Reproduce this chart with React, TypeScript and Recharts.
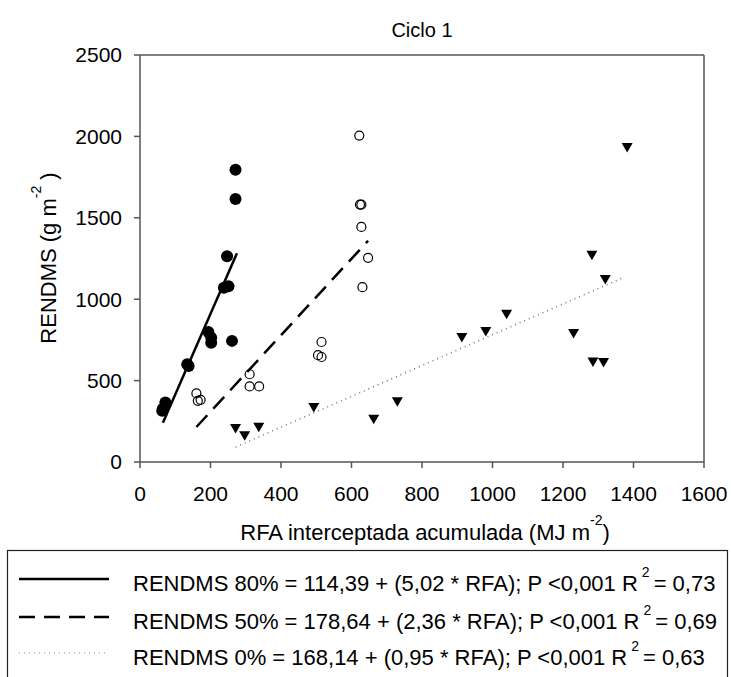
import React from 'react';
import { ComposedChart, Scatter, XAxis, YAxis, ReferenceLine } from 'recharts';

// ---- data ----
const x80 = [271, 271, 247, 238, 251, 194, 202, 202, 261, 134, 138, 72, 63, 65];
const y80 = [1795, 1616, 1264, 1070, 1080, 798, 764, 733, 744, 600, 590, 366, 315, 327];

const x50 = [160, 164, 172, 311, 311, 338, 622, 624, 628, 628, 647, 631, 515, 505, 515];
const y50 = [421, 376, 382, 539, 464, 464, 2005, 1581, 1581, 1444, 1254, 1074, 737, 656, 645];

const x0 = [271, 297, 337, 493, 663, 730, 913, 981, 1040, 1230, 1282, 1320, 1285, 1315, 1382];
const y0 = [206, 161, 213, 335, 263, 370, 764, 801, 907, 790, 1270, 1121, 615, 611, 1932];

const fit80X = [65, 275];
const fit80Y = [241, 1282];
const fit50X = [160, 647];
const fit50Y = [215, 1359];
const fit0X = [271, 1367];
const fit0Y = [92, 1129];

const xTicks = [0, 200, 400, 600, 800, 1000, 1200, 1400, 1600];
const yTicks = [0, 500, 1000, 1500, 2000, 2500];

const title = 'Ciclo 1';
const legendRows = [
  { main: 'RENDMS 80% = 114,39 + (5,02 * RFA); P <0,001 R', r2: '= 0,73' },
  { main: 'RENDMS 50% = 178,64 + (2,36 * RFA); P <0,001 R', r2: '= 0,69' },
  { main: 'RENDMS 0% = 168,14 + (0,95 * RFA); P <0,001 R', r2: '= 0,63' },
];

const zip = (xs: number[], ys: number[]) => xs.map((x, i) => ({ x, y: ys[i] }));

const W = 731;
const H = 677;
const FONT = '"Liberation Sans", Arial, sans-serif';
const AXIS = '#555';

const FilledCircle = (p: any) => <circle cx={p.cx} cy={p.cy} r={6} fill="#000" />;
const OpenCircle = (p: any) => (
  <circle cx={p.cx} cy={p.cy} r={4.5} fill="none" stroke="#000" strokeWidth={1.2} />
);
const DownTriangle = (p: any) => (
  <polygon
    points={`${p.cx - 5.5},${p.cy - 4.5} ${p.cx + 5.5},${p.cy - 4.5} ${p.cx},${p.cy + 5}`}
    fill="#000"
  />
);
const NoShape = () => <g />;

export default function App() {
  return (
    <div style={{ position: 'absolute', left: 0, top: 0, width: W, height: H, background: '#fff' }}>
      <ComposedChart
        width={W}
        height={H}
        margin={{ top: 55, right: 27, bottom: 185, left: 80 }}
        style={{ fontFamily: FONT }}
      >
        <XAxis
          type="number"
          dataKey="x"
          domain={[0, 1600]}
          ticks={xTicks}
          interval={0}
          height={30}
          tickSize={6}
          tickMargin={18}
          stroke={AXIS}
          strokeWidth={1.5}
          tick={{ fill: '#000', fontSize: 21, fontFamily: FONT }}
          allowDataOverflow
        />
        <YAxis
          type="number"
          dataKey="y"
          domain={[0, 2500]}
          ticks={yTicks}
          interval={0}
          width={60}
          tickSize={6}
          tickMargin={12}
          stroke={AXIS}
          strokeWidth={1.5}
          tick={{ fill: '#000', fontSize: 21, fontFamily: FONT }}
          allowDataOverflow
        />
        <ReferenceLine y={2500} stroke={AXIS} strokeWidth={1.5} />
        <ReferenceLine x={1600} stroke={AXIS} strokeWidth={1.5} />

        <Scatter
          data={zip(fit80X, fit80Y)}
          shape={NoShape}
          line={{ stroke: '#000', strokeWidth: 2.5 }}
          lineType="joint"
          isAnimationActive={false}
        />
        <Scatter
          data={zip(fit50X, fit50Y)}
          shape={NoShape}
          line={{ stroke: '#000', strokeWidth: 2.5, strokeDasharray: '16 9' }}
          lineType="joint"
          isAnimationActive={false}
        />
        <Scatter
          data={zip(fit0X, fit0Y)}
          shape={NoShape}
          line={{ stroke: '#777', strokeWidth: 1.5, strokeDasharray: '1 4' }}
          lineType="joint"
          isAnimationActive={false}
        />

        <Scatter data={zip(x80, y80)} shape={FilledCircle} isAnimationActive={false} />
        <Scatter data={zip(x50, y50)} shape={OpenCircle} isAnimationActive={false} />
        <Scatter data={zip(x0, y0)} shape={DownTriangle} isAnimationActive={false} />
      </ComposedChart>

      <svg
        width={W}
        height={H}
        style={{ position: 'absolute', left: 0, top: 0, pointerEvents: 'none', fontFamily: FONT }}
      >
        <text x={422} y={37} textAnchor="middle" fontSize={20} fill="#000">
          {title}
        </text>

        <text x={425} y={540} textAnchor="middle" fontSize={22} fill="#000">
          RFA interceptada acumulada (MJ m
          <tspan dy={-15} fontSize={14}>-2</tspan>
          <tspan dy={15}>)</tspan>
        </text>

        <text
          x={0}
          y={0}
          transform="translate(56,258) rotate(-90)"
          textAnchor="middle"
          fontSize={22}
          fill="#000"
        >
          RENDMS (g m
          <tspan dy={-15} fontSize={14}>-2</tspan>
          <tspan dy={15}> )</tspan>
        </text>

        <rect x={7.5} y={550.5} width={720} height={140} fill="none" stroke="#222" strokeWidth={1.2} />
        <line x1={19} x2={109} y1={579} y2={579} stroke="#000" strokeWidth={2.5} />
        <line x1={19} x2={109} y1={617} y2={617} stroke="#000" strokeWidth={2.5} strokeDasharray="16 9" />
        <line x1={19} x2={109} y1={653} y2={653} stroke="#888" strokeWidth={1.2} strokeDasharray="1 4" />
        {legendRows.map((r, i) => (
          <text key={i} x={133} y={[591, 629, 665][i]} fontSize={22} fill="#000">
            {r.main}
            <tspan dx={4} dy={-14} fontSize={14}>2</tspan>
            <tspan dx={4} dy={14}>{r.r2}</tspan>
          </text>
        ))}
      </svg>
    </div>
  );
}
